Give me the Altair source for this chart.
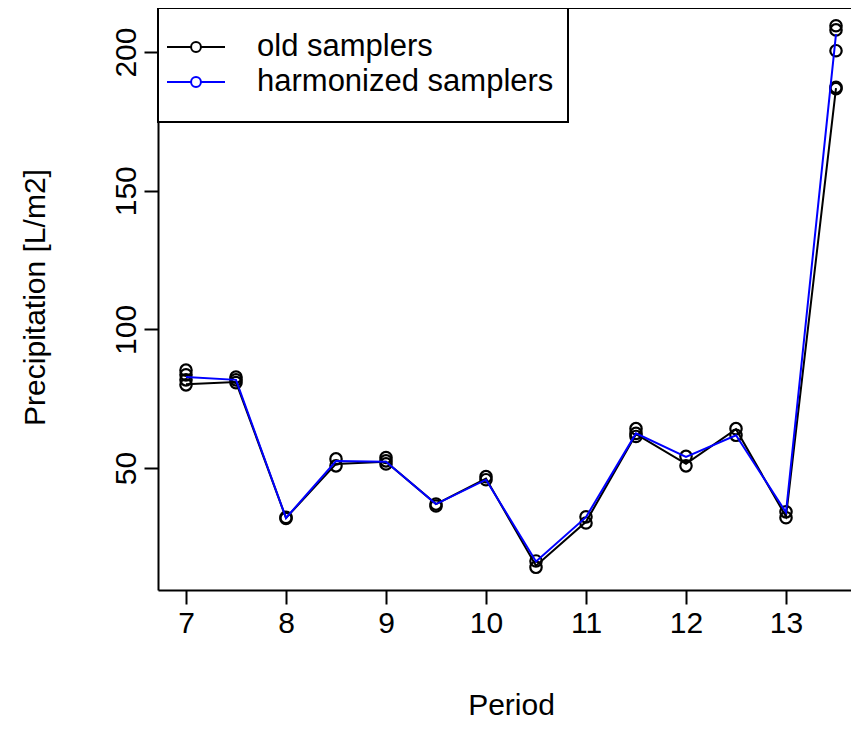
import altair as alt
import pandas as pd

# ---- data ----
periods = [7, 7.5, 8, 8.5, 9, 9.5, 10, 10.5, 11, 11.5, 12, 12.5, 13, 13.5]
sampler_values = [
    [85.3, 83.6, 81.8, 80.0],
    [82.8, 81.8, 80.8],
    [32.2, 31.8],
    [53.3, 50.8],
    [53.8, 52.6, 51.5],
    [37.0, 36.3],
    [46.9, 45.8],
    [16.5, 14.2],
    [32.4, 30.2],
    [64.2, 62.5, 61.4],
    [54.2, 50.8],
    [64.2, 61.8],
    [34.2, 32.1],
    [209.5, 208.0, 200.5, 187.3, 186.8],
]
old_line = [80.2, 81.0, 32.0, 51.5, 52.3, 37.0, 46.2, 14.8, 30.6, 62.2, 51.5, 64.0, 32.5, 187.0]
harm_line = [82.8, 81.8, 32.0, 52.5, 52.3, 37.0, 45.8, 16.3, 32.3, 62.5, 54.0, 61.8, 34.0, 206.5]
series_names = ["old samplers", "harmonized samplers"]
series_colors = ["#000000", "#0000FF"]
x_ticks = [7, 8, 9, 10, 11, 12, 13]
y_ticks = [50, 100, 150, 200]

# ---- tables ----
pts = pd.DataFrame(
    [{"period": p, "precip": v} for p, vals in zip(periods, sampler_values) for v in vals]
)
old_df = pd.DataFrame({"period": periods, "precip": old_line, "series": series_names[0]})
harm_df = pd.DataFrame({"period": periods, "precip": harm_line, "series": series_names[1]})

FONT = "Liberation Sans"
W, H = 693, 582

x_scale = alt.Scale(domain=[6.72, 13.65], nice=False, zero=False)
y_scale = alt.Scale(domain=[6.02, 215.9], nice=False, zero=False)

x_axis = alt.Axis(
    values=x_ticks, format="d", grid=False, tickSize=14, tickWidth=2, tickColor="black",
    domainColor="black", domainWidth=2, labelFont=FONT, labelFontSize=30,
    labelColor="black", labelPadding=4, labelFlush=False,
    title="Period", titleFont=FONT, titleFontSize=30, titleFontWeight="normal",
    titleColor="black", titleX=353, titleY=115, titleAlign="center",
    titleBaseline="middle",
)
y_axis = alt.Axis(
    values=y_ticks, format="d", grid=False, tickSize=14, tickWidth=2, tickColor="black",
    domainColor="black", domainWidth=2, labelFont=FONT, labelFontSize=30,
    labelColor="black", labelPadding=3, labelAngle=270, labelAlign="center",
    labelBaseline="bottom", labelFlush=False,
    title="Precipitation [L/m2]", titleFont=FONT, titleFontSize=30,
    titleFontWeight="normal", titleColor="black", titleAngle=270,
    titleX=-123, titleY=289, titleAlign="center", titleBaseline="middle",
)

r = 0.17
sym_path = (
    f"M-1,0H-{r}M{r},0H1M{r},0A{r},{r} 0 1,1 -{r},0A{r},{r} 0 1,1 {r},0"
)

color = alt.Color(
    "series:N",
    scale=alt.Scale(domain=series_names, range=series_colors),
    legend=alt.Legend(
        title=None, orient="none", legendX=8, legendY=24, padding=0,
        symbolType=sym_path, symbolSize=3364, symbolStrokeWidth=2,
        symbolOffset=0, symbolFillColor="white",
        labelOffset=31, labelFont=FONT, labelFontSize=31, labelColor="black",
        labelLimit=0, clipHeight=30, rowPadding=4,
    ),
)

points = alt.Chart(pts).mark_point(
    shape="circle", filled=False, color="black", size=130, strokeWidth=2.2, opacity=1
).encode(
    x=alt.X("period:Q", scale=x_scale, axis=x_axis),
    y=alt.Y("precip:Q", scale=y_scale, axis=y_axis),
)

line_old = alt.Chart(old_df).mark_line(strokeWidth=2).encode(
    x=alt.X("period:Q", scale=x_scale),
    y=alt.Y("precip:Q", scale=y_scale),
    color=color,
)
line_harm = alt.Chart(harm_df).mark_line(strokeWidth=2).encode(
    x=alt.X("period:Q", scale=x_scale),
    y=alt.Y("precip:Q", scale=y_scale),
    color=color,
)

frame = pd.DataFrame({"k": [0]})
top_border = alt.Chart(frame).mark_rule(
    color="black", strokeWidth=2
).encode(x=alt.value(0), x2=alt.value(W), y=alt.value(0))

legend_box = alt.Chart(frame).mark_rect(
    fill="white", stroke="black", strokeWidth=2
).encode(x=alt.value(0), x2=alt.value(410), y=alt.value(0), y2=alt.value(114))

chart = alt.layer(points, line_old, line_harm, legend_box, top_border).properties(
    width=W, height=H,
    autosize=alt.AutoSizeParams(type="none"),
    padding={"left": 150, "top": 0, "right": 0, "bottom": 150},
).configure_view(stroke=None)

chart.save("out.html", embed_options={"renderer": "svg", "actions": False})
